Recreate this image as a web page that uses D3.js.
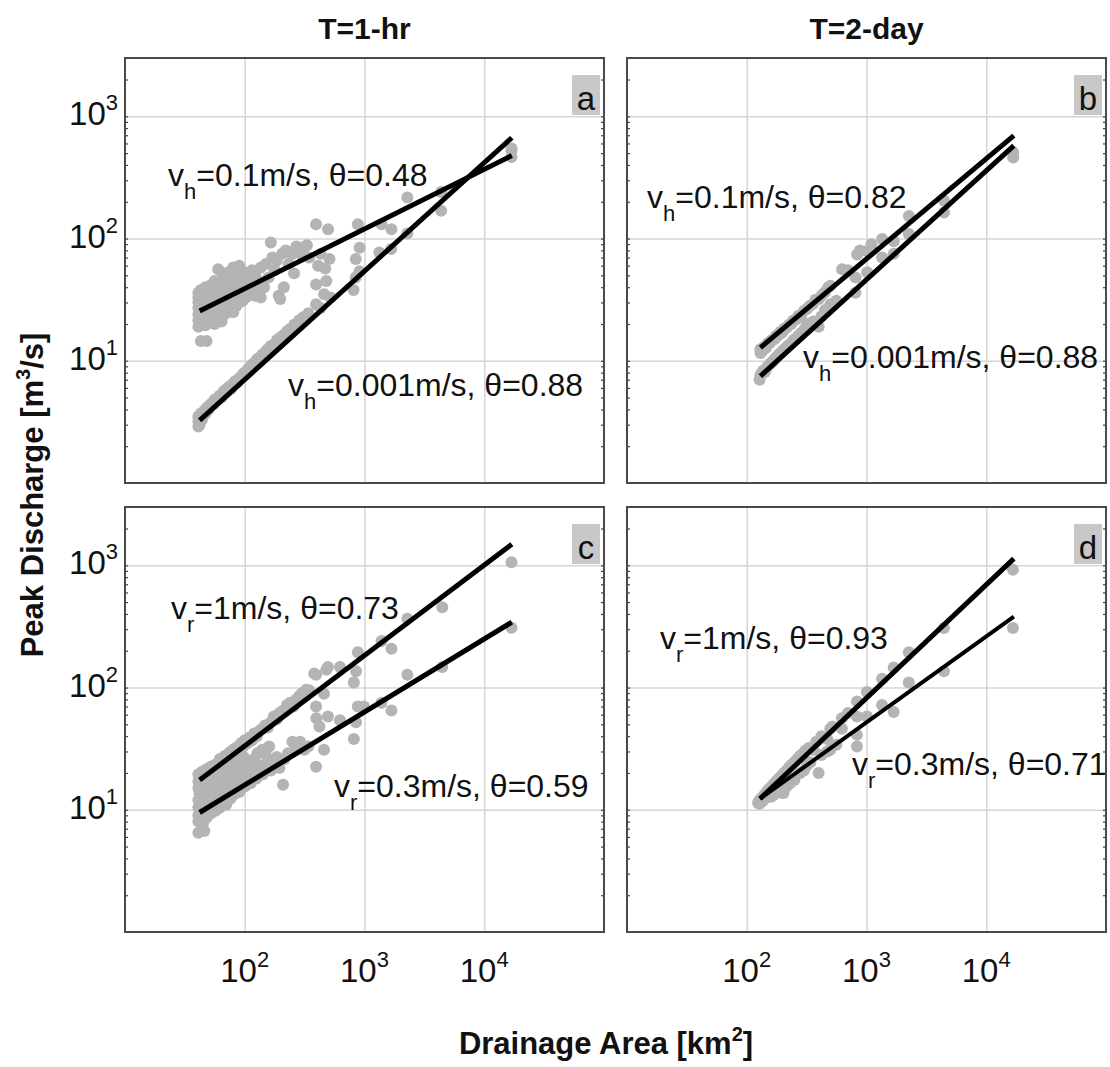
<!DOCTYPE html>
<html>
<head>
<meta charset="utf-8">
<script src="https://cdn.jsdelivr.net/npm/d3@7"></script>
<style>
  body { margin: 0; background: #fff; }
  text { font-family: "Liberation Sans", Arial, sans-serif; fill: #111; }
</style>
</head>
<body>
<div id="chart"></div>
<script>
// Peak discharge vs drainage area, four panels (a-d)

const colTitles = ["T=1-hr", "T=2-day"];
const panelIds = ["a", "b", "c", "d"];
const xDomain = [10, 1e5];
const yDomain = [1, 3000];
const decades = [10, 100, 1000, 10000];

// [area km2, peak discharge m3/s]
const ptsA1 = [[41,19],[41,21.5],[41,24],[41,27],[41,30],[41,33],[41,36],[43,14.5],[48,14.5],
  [43,20],[43,23],[43,26],[43,29],[43,32],[43,35],[43,38],[45,21],[45,25],[45,28],[45,31],[45,34],
  [47,19.5],[47,23],[47,27],[47,30],[47,36],[47,40],[50,21],[50,24],[50,29],[50,33],[50,38],
  [53,22],[53,26],[53,31],[53,35],[53,42],[56,20],[56,24],[56,28],[56,33],[56,39],[56,45],
  [60,23],[60,27],[60,31],[60,36],[60,41],[60,56],[64,21],[64,26],[64,30],[64,35],[64,40],[64,46],
  [68,24],[68,29],[68,33],[68,38],[68,44],[68,52],[72,26],[72,31],[72,36],[72,41],[72,48],
  [76,28],[76,33],[76,39],[76,45],[76,54],[80,25],[80,31],[80,36],[80,42],[80,50],[80,58],
  [85,28],[85,34],[85,40],[85,46],[85,55],[90,30],[90,36],[90,43],[90,52],[90,60],
  [96,31],[96,38],[96,45],[96,54],[102,33],[102,40],[102,48],[108,35],[108,43],[108,52],
  [115,37],[115,46],[115,55],[122,34],[122,41],[122,50],[130,36],[130,45],
  [136,33],[136,58],[145,40],[150,62],[158,48],[165,93],[170,70],[178,55],[185,66],[192,34],
  [198,32],[205,75],[212,40],[220,80],[232,62],[246,74],[258,52],[270,86],[284,80],[300,73],
  [315,85],[330,88],[345,70],[394,131],[394,42],[410,60],[430,75],[470,57],[480,45],[496,119],
  [510,68],[845,68],[879,131],[910,84],[1387,131],[1679,119],[2280,217],[4365,240],
  [16900,524],[16900,464]];
const ptsA2 = [[41,2.9],[41,3.2],[41,3.5],[42,3.0],[42,3.4],[43,3.7],[44,3.3],[45,3.6],[46,3.9],
  [47,3.7],[48,4.1],[50,4.0],[51,4.3],[53,4.5],[55,4.4],[56,4.8],[58,4.7],[60,5.0],[62,5.2],
  [64,5.0],[66,5.5],[68,5.7],[70,5.5],[72,6.0],[75,6.2],[77,5.9],[80,6.5],[83,6.8],[86,6.6],
  [90,7.2],[94,7.5],[98,7.9],[102,8.1],[106,8.5],[110,8.8],[115,9.3],[120,9.6],[126,10.2],
  [132,10.6],[140,11.2],[148,11.8],[156,12.5],[165,13.2],[175,13.6],[186,14.8],[198,15.5],
  [210,16.2],[225,17.4],[240,18.3],[260,19.8],[285,21.5],[310,22.8],[340,24.5],[394,29],
  [430,27],[460,35],[520,33],[810,38],[845,48],[910,54],[1330,77],[1670,82],[2280,110],
  [4365,169],[16900,545]];
const ptsB1 = [[130,11.6],[130,12.4],[135,12.0],[140,13.0],[145,12.8],[150,13.9],[156,14.0],
  [162,14.8],[170,15.0],[176,16.0],[183,16.1],[190,17.2],[198,17.0],[206,18.4],[215,18.6],
  [225,19.7],[235,20.0],[245,21.4],[258,21.8],[270,23.4],[285,23.6],[300,25.6],[318,26.5],
  [335,28.0],[355,29.0],[375,31.5],[400,32.0],[425,34.5],[450,36.5],[480,40],[500,41],
  [625,56],[700,55],[835,74],[880,80],[1013,79],[1100,90],[1350,99],[1690,95],[2260,153],
  [4440,204],[16800,507]];
const ptsB2 = [[128,7.0],[130,7.6],[133,7.9],[137,8.3],[142,8.1],[147,8.8],[152,9.1],[158,9.5],
  [164,9.8],[170,10.3],[177,10.7],[184,11.2],[192,11.6],[200,12.1],[210,12.6],[220,13.3],
  [232,13.8],[245,14.7],[258,15.3],[272,16.2],[288,17.0],[305,18.2],[318,20],[340,19.5],
  [360,21],[399,19],[420,23],[450,26],[500,29],[560,31],[809,36],[809,48],[1013,53],
  [1350,70],[1690,75],[2260,109],[4440,163],[16800,461]];
const ptsC1 = [[41,15],[41,17],[41,19.5],[42,13.5],[43,16],[43,18.5],[44,20.5],[45,15],[46,17.5],
  [47,19.5],[48,21.5],[50,18],[51,20],[52,22.5],[54,19],[55,21.5],[57,23.5],[59,21],[60,24],
  [62,26],[64,23],[66,25.5],[68,27.5],[70,24.5],[72,27],[75,29.5],[78,27],[80,31],[83,29],
  [86,32.5],[90,31],[93,35],[97,33],[100,37],[105,35],[110,39],[115,37],[120,42],[126,40],
  [132,44],[140,46],[148,49],[156,47],[165,52],[175,58],[185,55],[195,62],[210,65],[225,72],
  [240,75],[255,70],[270,80],[285,85],[300,90],[326,96],[345,95],[380,130],[394,127],[459,89],
  [480,140],[495,147],[624,147],[815,110],[850,136],[880,194],[1387,240],[1680,208],
  [2280,366],[4460,454],[16900,1058]];
const ptsC2 = [[41,6.5],[46,6.7],[41,8],[41,9],[41,10.5],[41,12],[42,13.5],[43,8.5],[43,9.8],
  [43,11],[44,12.5],[45,7.8],[45,9.2],[46,10.5],[46,11.8],[47,13],[48,8.6],[49,10],[50,11.3],
  [51,12.5],[52,9.3],[53,10.6],[55,12],[56,13.3],[57,9.8],[58,11],[60,12.3],[62,10.4],
  [63,13.6],[65,11.5],[66,14.8],[68,12.5],[70,11],[72,13.5],[74,15.5],[76,12.3],[78,14.5],
  [80,16.5],[83,13.5],[85,15.5],[88,17.5],[90,14],[93,16.5],[96,18.5],[100,15.5],[104,17.5],
  [108,20],[112,16.5],[116,19],[120,21.5],[125,18],[130,20.5],[136,23],[142,19.5],[150,22],
  [158,25],[165,21],[175,23.5],[185,27],[195,22],[209,16],[215,26],[230,29],[250,36],
  [270,33],[290,36],[314,31],[340,33],[394,22.5],[394,70],[396,56],[420,48],[459,31],
  [495,58],[624,54],[815,38],[850,52],[880,70],[990,70],[1387,75],[1680,65],[2280,127],
  [4460,147],[16900,308],
  [45,14.5],[48,16],[50,14.5],[55,15.5],[55,17],[60,16.5],[62,19],[65,17.5],[70,18.5],
  [70,21],[75,19.5],[78,23],[82,20.5],[88,25],[90,21.5],[98,27],[100,23],[110,25],[120,26],
  [128,29],[140,31],[150,28],[160,33]];
const ptsD1 = [[125,11.3],[128,12],[131,11.6],[135,12.6],[140,13.2],[145,13.8],[150,14.4],
  [156,15],[162,15.6],[170,16.4],[178,17.3],[186,18],[195,19],[205,20],[215,21],[226,22.3],
  [238,23.5],[250,24.5],[264,26],[278,27.5],[295,29],[310,30.5],[330,32],[361,31],[380,36],
  [420,40],[470,38],[498,46],[520,48],[623,46],[623,56],[700,62],[832,58],[832,77],
  [1009,92],[1348,118],[1687,146],[2255,194],[4430,307],[16700,918]];
const ptsD2 = [[125,11.5],[128,11.2],[131,12.2],[136,11.8],[142,12.4],[150,13.0],[160,12.8],
  [167,13.2],[175,14.0],[185,14.5],[195,13.8],[203,13.7],[215,15.5],[230,16.5],[250,17.5],
  [279,20],[300,21],[318,23],[340,24.5],[398,20],[420,28],[470,30],[498,31],[560,34],
  [832,33],[832,41],[1009,58],[1348,72],[1687,63],[2255,110],[4430,136],[16700,307]];

// fitted power laws, end points [area, Q]
const fitA1 = [[42, 25.5], [17000, 478]];
const fitA2 = [[42, 3.25], [17000, 668]];
const fitB1 = [[130, 12.8], [17000, 695]];
const fitB2 = [[130, 7.5], [17000, 575]];
const fitC1 = [[42, 17.5], [17000, 1490]];
const fitC2 = [[42, 9.5], [17000, 343]];
const fitD1 = [[129, 12.3], [17000, 1135]];
const fitD2 = [[129, 12.3], [17000, 380]];

const noteSub = ["h", "h", "h", "h", "r", "r", "r", "r"];
const noteRest = ["=0.1m/s, \u03b8=0.48", "=0.001m/s, \u03b8=0.88",
  "=0.1m/s, \u03b8=0.82", "=0.001m/s, \u03b8=0.88",
  "=1m/s, \u03b8=0.73", "=0.3m/s, \u03b8=0.59",
  "=1m/s, \u03b8=0.93", "=0.3m/s, \u03b8=0.71"];

// layout
const W = 1110, H = 1067;
const margin = {left: 125, top: 58};
const panelW = 479, panelH = 425, gapX = 23, gapY = 24;
// note offsets from panel's top-left corner (baseline of text)
const notePos = [[43, 128], [163, 338], [20, 150], [176, 310],
                 [46, 112], [209, 290], [33, 142], [225, 268]];

const panels = [
  {col: 0, row: 0, pts: [ptsA1, ptsA2], fits: [fitA1, fitA2]},
  {col: 1, row: 0, pts: [ptsB1, ptsB2], fits: [fitB1, fitB2]},
  {col: 0, row: 1, pts: [ptsC1, ptsC2], fits: [fitC1, fitC2]},
  {col: 1, row: 1, pts: [ptsD1, ptsD2], fits: [fitD1, fitD2]}
];

const svg = d3.select("#chart").append("svg")
    .attr("width", W)
    .attr("height", H);

function powLabel(sel, exp, baseSize, supSize, rise) {
    sel.append("tspan").attr("font-size", baseSize).text("10");
    sel.append("tspan").attr("font-size", supSize).attr("dy", -rise).text(exp);
}

panels.forEach(function(p, i) {
    const x0 = margin.left + p.col * (panelW + gapX);
    const y0 = margin.top + p.row * (panelH + gapY);
    const x = d3.scaleLog().domain(xDomain).range([x0, x0 + panelW]);
    const y = d3.scaleLog().domain(yDomain).range([y0 + panelH, y0]);
    const g = svg.append("g").attr("class", "panel");

    // grid at decades
    g.append("g")
        .attr("transform", "translate(0," + (y0 + panelH) + ")")
        .call(d3.axisBottom(x).tickValues(decades.slice(1)).tickSize(-panelH).tickFormat(""))
        .call(a => a.select(".domain").remove())
        .selectAll("line").attr("stroke", "#d6d6d6").attr("stroke-width", 1.5);
    g.append("g")
        .attr("transform", "translate(" + x0 + ",0)")
        .call(d3.axisRight(y).tickValues(decades.slice(0, 3)).tickSize(panelW).tickFormat(""))
        .call(a => a.select(".domain").remove())
        .selectAll("line").attr("stroke", "#d6d6d6").attr("stroke-width", 1.5);

    // minor ticks on the y sides, inward
    const yt = y.ticks().filter(v => v > 1);
    g.append("g")
        .attr("transform", "translate(" + x0 + ",0)")
        .call(d3.axisRight(y).tickValues(yt).tickSize(3).tickFormat(""))
        .call(a => a.select(".domain").remove())
        .selectAll("line").attr("stroke", "#444").attr("stroke-width", 1.2);
    g.append("g")
        .attr("transform", "translate(" + (x0 + panelW) + ",0)")
        .call(d3.axisLeft(y).tickValues(yt).tickSize(3).tickFormat(""))
        .call(a => a.select(".domain").remove())
        .selectAll("line").attr("stroke", "#444").attr("stroke-width", 1.2);

    // points
    p.pts.forEach(function(series) {
        g.append("g").selectAll("circle")
            .data(series)
            .join("circle")
            .attr("cx", d => x(d[0]))
            .attr("cy", d => y(d[1]))
            .attr("r", 6)
            .attr("fill", "#b4b4b4");
    });

    // fit lines
    const line = d3.line().x(d => x(d[0])).y(d => y(d[1]));
    p.fits.forEach(function(f, k) {
        g.append("path")
            .attr("d", line(f))
            .attr("fill", "none")
            .attr("stroke", "#000")
            .attr("stroke-width", (i === 3 && k === 1) ? 4 : 5);
    });

    // annotations
    for (let k = 0; k < 2; k++) {
        const n = i * 2 + k;
        const t = g.append("text")
            .attr("x", x0 + notePos[n][0])
            .attr("y", y0 + notePos[n][1])
            .attr("font-size", 32);
        t.append("tspan").text("v");
        t.append("tspan").attr("font-size", 22).attr("dy", 13).text(noteSub[n]);
        t.append("tspan").attr("dy", -13).text(noteRest[n]);
    }

    // frame
    g.append("rect")
        .attr("x", x0).attr("y", y0)
        .attr("width", panelW).attr("height", panelH)
        .attr("fill", "none")
        .attr("stroke", "#4a4a4a")
        .attr("stroke-width", 2);

    // panel letter
    g.append("rect")
        .attr("x", x0 + panelW - 32).attr("y", y0 + 17)
        .attr("width", 28).attr("height", 40)
        .attr("fill", "#c8c8c8");
    g.append("text")
        .attr("x", x0 + panelW - 18).attr("y", y0 + 52)
        .attr("text-anchor", "middle")
        .attr("font-size", 33)
        .text(panelIds[i]);

    // tick labels
    if (p.col === 0) {
        g.append("g").selectAll("text")
            .data(decades.slice(0, 3))
            .join("text")
            .attr("x", x0 - 7)
            .attr("y", d => y(d) + 9)
            .attr("text-anchor", "end")
            .each(function(d) {
                powLabel(d3.select(this), Math.round(Math.log10(d)), 33, 22, 15);
            });
    }
    if (p.row === 0) {
        svg.append("text")
            .attr("x", x0 + panelW / 2)
            .attr("y", 39)
            .attr("text-anchor", "middle")
            .attr("font-size", 30)
            .attr("font-weight", "bold")
            .text(colTitles[p.col]);
    } else {
        g.append("g").selectAll("text")
            .data(decades.slice(1))
            .join("text")
            .attr("x", d => x(d))
            .attr("y", y0 + panelH + 50)
            .attr("text-anchor", "middle")
            .each(function(d) {
                powLabel(d3.select(this), Math.round(Math.log10(d)), 33, 22, 15);
            });
    }
});

// axis titles
const yl = svg.append("text")
    .attr("transform", "translate(43,495) rotate(-90)")
    .attr("text-anchor", "middle")
    .attr("font-size", 31)
    .attr("font-weight", "bold");
yl.append("tspan").text("Peak Discharge [m");
yl.append("tspan").attr("font-size", 20).attr("dy", -13).text("3");
yl.append("tspan").attr("dy", 13).text("/s]");

const xl = svg.append("text")
    .attr("x", 606)
    .attr("y", 1054)
    .attr("text-anchor", "middle")
    .attr("font-size", 31)
    .attr("font-weight", "bold");
xl.append("tspan").text("Drainage Area [km");
xl.append("tspan").attr("font-size", 20).attr("dy", -13).text("2");
xl.append("tspan").attr("dy", 13).text("]");
</script>
</body>
</html>
